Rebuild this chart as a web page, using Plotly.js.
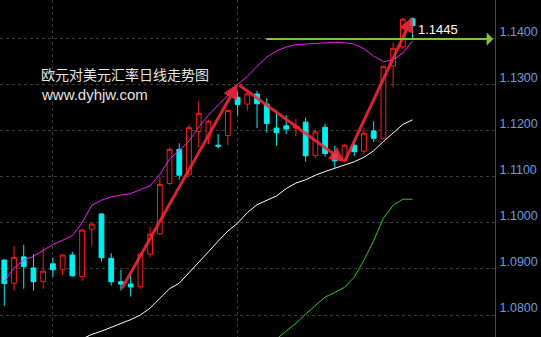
<!DOCTYPE html>
<html>
<head>
<meta charset="utf-8">
<script src="https://cdn.plot.ly/plotly-3.0.1.min.js"></script>
<style>html,body{margin:0;padding:0;background:#000;}#chart{width:541px;height:337px;}</style>
</head>
<body>
<div id="chart"></div>
<script>
// Daily EUR/USD candles (index = trading day)
const openP  = [1.0919,1.0869,1.0926,1.0902,1.0873,1.0911,1.0899,1.0930,1.0883,1.0986,1.1019,1.0923,1.0872,1.0867,1.0861,1.0932,1.0976,1.1085,1.1159,1.1105,1.1198,1.1185,1.1168,1.1189,1.1272,1.1257,1.1279,1.1257,1.1205,1.1210,1.1205,1.1218,1.1146,1.1207,1.1149,1.1135,1.1168,1.1155,1.1199,1.1183,1.1340,1.1381,1.1442];
const highP  = [1.0921,1.0950,1.0952,1.0932,1.0947,1.0924,1.0932,1.0937,1.0987,1.0999,1.1020,1.0934,1.0898,1.0887,1.0933,1.0991,1.1100,1.1163,1.1172,1.1212,1.1263,1.1223,1.1192,1.1244,1.1284,1.1284,1.1286,1.1270,1.1244,1.1233,1.1225,1.1228,1.1202,1.1214,1.1167,1.1170,1.1179,1.1205,1.1220,1.1340,1.1391,1.1444,1.1445];
const lowP   = [1.0820,1.0853,1.0857,1.0853,1.0857,1.0883,1.0887,1.0883,1.0874,1.0950,1.0916,1.0864,1.0853,1.0840,1.0857,1.0925,1.0973,1.1082,1.1093,1.1100,1.1163,1.1170,1.1161,1.1168,1.1233,1.1243,1.1205,1.1195,1.1167,1.1192,1.1187,1.1132,1.1139,1.1143,1.1119,1.1131,1.1144,1.1149,1.1175,1.1182,1.1293,1.1376,1.1399];
const closeP = [1.0868,1.0925,1.0905,1.0872,1.0895,1.0898,1.0930,1.0885,1.0984,1.0997,1.0924,1.0872,1.0867,1.0861,1.0932,1.0975,1.1083,1.1159,1.1103,1.1206,1.1237,1.1220,1.1166,1.1243,1.1256,1.1279,1.1258,1.1215,1.1195,1.1203,1.1209,1.1145,1.1197,1.1150,1.1134,1.1168,1.1154,1.1194,1.1183,1.1339,1.1378,1.1441,1.1427];

// Bollinger bands
const bollUpper = [1.0872,1.0902,1.0919,1.0927,1.0940,1.0953,1.0962,1.0972,1.1000,1.1038,1.1049,1.1056,1.1060,1.1063,1.1072,1.1080,1.1105,1.1138,1.1157,1.1177,1.1207,1.1233,1.1255,1.1276,1.1300,1.1317,1.1339,1.1359,1.1372,1.1381,1.1386,1.1387,1.1388,1.1390,1.1391,1.1390,1.1387,1.1377,1.1361,1.1349,1.1353,1.1368,1.1394];
const bollMid = [null,null,null,null,null,null,null,null,1.0748,1.0758,1.0765,1.0773,1.0781,1.0790,1.0800,1.0815,1.0836,1.0857,1.0869,1.0891,1.0915,1.0937,1.0960,1.0982,1.0999,1.1022,1.1039,1.1049,1.1058,1.1074,1.1086,1.1093,1.1103,1.1111,1.1118,1.1125,1.1132,1.1142,1.1156,1.1176,1.1194,1.1213,1.1223];
const bollLower = [null,null,null,null,null,null,null,null,null,null,null,null,null,null,null,null,null,null,null,null,null,null,null,null,null,null,null,null,1.0748,1.0765,1.0782,1.0802,1.0820,1.0839,1.0849,1.0860,1.0882,1.0919,1.0961,1.1010,1.1038,1.1051,1.1051];

// Trend arrows (swing points) and resistance level
const swingIdx = [12, 24, 35, 42];
const swingPrice = [1.0854, 1.1301, 1.1132, 1.1446];
const resistLevel = 1.1398;
const resistFrom = 26.8;
const resistTo = 50.3;

const yTicks = [1.08, 1.09, 1.10, 1.11, 1.12, 1.13, 1.14];
const gridDays = [5, 24];
const titleText = '欧元对美元汇率日线走势图';
const siteText = 'www.dyhjw.com';

const idx = openP.map((_, i) => i);
const hiMax = Math.max(...highP);

const traces = [
  {
    type: 'candlestick', x: idx, open: openP, high: highP, low: lowP, close: closeP,
    increasing: {line: {color: '#ff1a1a', width: 1}, fillcolor: '#000000'},
    decreasing: {line: {color: '#00f0f0', width: 1}, fillcolor: '#00f0f0'},
    whiskerwidth: 0, hoverinfo: 'skip', showlegend: false
  },
  {type: 'scatter', mode: 'lines', x: idx, y: bollUpper, line: {color: '#f01ef0', width: 1}, hoverinfo: 'skip', showlegend: false},
  {type: 'scatter', mode: 'lines', x: idx, y: bollMid, line: {color: '#ffffff', width: 1}, hoverinfo: 'skip', showlegend: false},
  {type: 'scatter', mode: 'lines', x: idx, y: bollLower, line: {color: '#1ed01e', width: 1}, hoverinfo: 'skip', showlegend: false}
];

const annotations = [];
for (let k = 1; k < swingIdx.length; k++) {
  annotations.push({
    xref: 'x', yref: 'y', axref: 'x', ayref: 'y',
    x: swingIdx[k], y: swingPrice[k], ax: swingIdx[k-1], ay: swingPrice[k-1],
    text: '', showarrow: true, arrowhead: 2, arrowsize: 1, arrowwidth: 3,
    arrowcolor: 'rgba(245,40,60,0.88)', standoff: 0, startstandoff: 0
  });
}
annotations.push({
  xref: 'x', yref: 'y', axref: 'x', ayref: 'y',
  x: resistTo, y: resistLevel, ax: resistFrom, ay: resistLevel,
  text: '', showarrow: true, arrowhead: 1, arrowsize: 1.1, arrowwidth: 2,
  arrowcolor: '#7cc43a', standoff: 0
});
annotations.push({
  xref: 'x', yref: 'y', x: 42.35, y: 1.1418, xanchor: 'left', yanchor: 'middle',
  text: hiMax.toFixed(4), showarrow: false,
  font: {family: 'Liberation Sans, Arial, sans-serif', size: 13, color: '#ffffff'}
});
annotations.push({
  xref: 'paper', yref: 'paper', x: 0.079, y: 1 - 73.5/337, xanchor: 'left', yanchor: 'middle',
  text: titleText, showarrow: false,
  font: {family: 'Noto Sans CJK SC, sans-serif', size: 14, color: '#e4e4e4'}
});
annotations.push({
  xref: 'paper', yref: 'paper', x: 0.079, y: 1 - 94/337, xanchor: 'left', yanchor: 'middle',
  text: siteText, showarrow: false,
  font: {family: 'Liberation Sans, Arial, sans-serif', size: 15, color: '#e4e4e4'}
});

const layout = {
  width: 541, height: 337,
  margin: {l: 0, r: 46, t: 0, b: 0, pad: 0, autoexpand: false},
  paper_bgcolor: '#000000', plot_bgcolor: '#000000',
  showlegend: false, hovermode: false,
  xaxis: {
    range: [-0.442, 50.48], showticklabels: false, ticks: '',
    tickvals: gridDays, showgrid: true, gridcolor: '#3c3c3c', griddash: 'dot', gridwidth: 1,
    zeroline: false, showline: false, rangeslider: {visible: false}, fixedrange: true
  },
  yaxis: {
    side: 'right', range: [1.075232, 1.148271],
    tickvals: yTicks, tickformat: '.4f', ticks: '',
    showgrid: true, gridcolor: '#3c3c3c', griddash: 'dot', gridwidth: 1,
    showline: true, linecolor: '#4a4a4a', linewidth: 1, zeroline: false,
    tickfont: {family: 'Liberation Sans, Arial, sans-serif', size: 12.5, color: '#6a9be2'},
    ticklabelshift: -7, ticklabelstandoff: 1, fixedrange: true
  },
  annotations: annotations
};

Plotly.newPlot('chart', traces, layout, {displayModeBar: false, staticPlot: true});
</script>
</body>
</html>
